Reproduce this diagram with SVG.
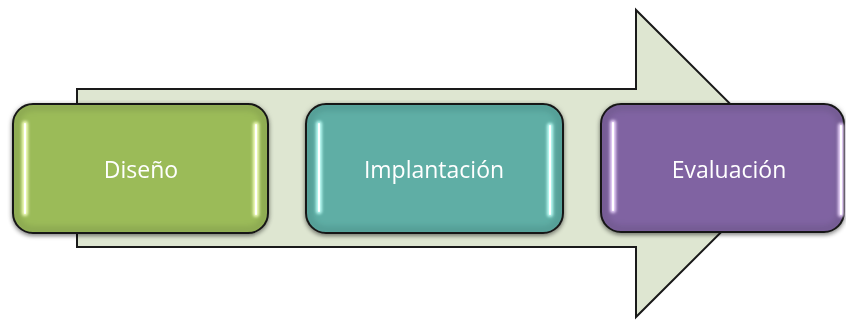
<svg xmlns="http://www.w3.org/2000/svg" width="846" height="321" viewBox="0 0 846 321">
<defs>
<filter id="sh" x="-10%" y="-10%" width="120%" height="130%">
<feGaussianBlur in="SourceAlpha" stdDeviation="2"/>
<feOffset dy="2" result="b"/>
<feComponentTransfer><feFuncA type="linear" slope="0.45"/></feComponentTransfer>
<feMerge><feMergeNode/><feMergeNode in="SourceGraphic"/></feMerge>
</filter>
<filter id="gl" filterUnits="userSpaceOnUse" x="0" y="0" width="846" height="321">
<feGaussianBlur stdDeviation="1.8"/>
</filter>
<filter id="ib" x="-5%" y="-5%" width="110%" height="110%">
<feGaussianBlur stdDeviation="3"/>
</filter>
</defs>
<style>
.box{stroke:#1a1a1a;stroke-width:2}
.inner{fill:none;stroke:#000;stroke-opacity:0.12;stroke-width:6;filter:url(#ib)}
.lbl{font-family:"Open Sans","Liberation Sans",sans-serif;font-size:23px;fill:#fff;text-anchor:middle;dominant-baseline:central}
.hl{stroke-width:6;stroke-linecap:round;filter:url(#gl)}
.hc{stroke:#fff;stroke-width:2;stroke-linecap:round}
</style>
<g id="arrow">
<path d="M77,89 L636,89 L636,10 L790,163.5 L636,317 L636,247 L77,247 Z" fill="#DEE6D1" stroke="#1a1a1a" stroke-width="2"/>
</g>
<g id="n1" filter="url(#sh)">
<rect class="box" x="13" y="104" width="255" height="129" rx="20" fill="#9BBB59"/>
<rect class="inner" x="16" y="107" width="249" height="123" rx="17"/>
<line class="hl" x1="25" y1="124" x2="25" y2="213" stroke="#F5FFC0"/>
<line class="hc" x1="25" y1="124" x2="25" y2="213"/>
<line class="hl" x1="256" y1="125" x2="256" y2="214" stroke="#F5FFC0"/>
<line class="hc" x1="256" y1="125" x2="256" y2="214"/>
<text class="lbl" x="141" y="169">Diseño</text>
</g>
<g id="n2" filter="url(#sh)">
<rect class="box" x="306" y="104" width="257" height="129" rx="20" fill="#5EAEA5"/>
<rect class="inner" x="309" y="107" width="251" height="123" rx="17"/>
<line class="hl" x1="319" y1="124" x2="319" y2="211" stroke="#C0FFF8"/>
<line class="hc" x1="319" y1="124" x2="319" y2="211"/>
<line class="hl" x1="550" y1="126" x2="550" y2="214" stroke="#C0FFF8"/>
<line class="hc" x1="550" y1="126" x2="550" y2="214"/>
<text class="lbl" x="434" y="169">Implantación</text>
</g>
<g id="n3" filter="url(#sh)">
<rect class="box" x="601" y="104" width="243" height="128" rx="20" fill="#8064A2"/>
<rect class="inner" x="604" y="107" width="237" height="122" rx="17"/>
<line class="hl" x1="613" y1="123" x2="613" y2="210" stroke="#EED8FF"/>
<line class="hc" x1="613" y1="123" x2="613" y2="210"/>
<line class="hl" x1="841" y1="126" x2="841" y2="214" stroke="#EED8FF"/>
<line class="hc" x1="841" y1="126" x2="841" y2="214"/>
<text class="lbl" x="729" y="169">Evaluación</text>
</g>
<g id="connectors"></g>
</svg>
